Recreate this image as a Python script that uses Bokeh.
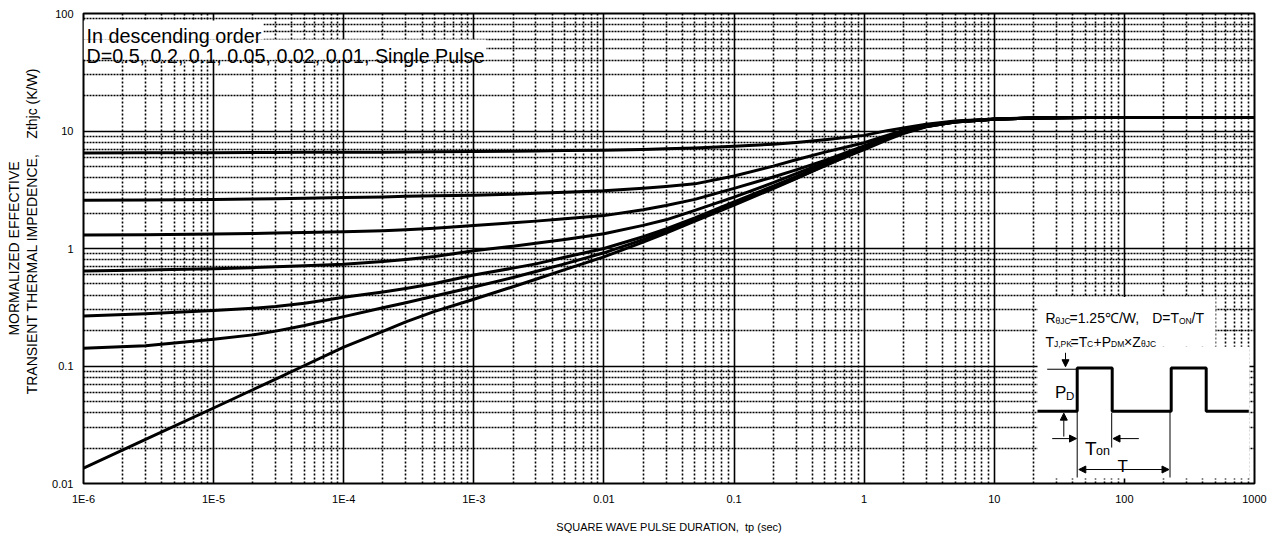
import math
from bokeh.plotting import figure
from bokeh.models import (FixedTicker, Range1d, LinearScale, Label, Arrow, NormalHead, LogAxis)
from bokeh.embed import file_html
from bokeh.resources import INLINE

# ---------------- data ----------------
tp = [1e-6, 3e-6, 1e-5, 2e-5, 3e-5, 5e-5, 1e-4, 2e-4, 3e-4, 5e-4, 1e-3, 2e-3, 3e-3, 5e-3,
      0.01, 0.02, 0.03, 0.05, 0.1, 0.2, 0.3, 0.5, 1, 1.5, 2, 3, 5, 10, 20, 50, 100, 1000]

z_d050 = [6.50, 6.52, 6.53, 6.55, 6.56, 6.58, 6.59, 6.61, 6.62, 6.65, 6.68, 6.73, 6.76, 6.81,
          6.87, 6.97, 7.05, 7.18, 7.41, 7.73, 7.98, 8.41, 9.18, 10.07, 10.59, 11.43, 12.16,
          12.68, 12.9, 13.0, 13.0, 13.0]
z_d020 = [2.58, 2.59, 2.61, 2.64, 2.65, 2.68, 2.72, 2.75, 2.78, 2.81, 2.84, 2.90, 2.95, 3.01,
          3.10, 3.26, 3.37, 3.55, 4.14, 5.02, 5.69, 6.61, 7.94, 9.16, 10.1, 11.2, 12.05,
          12.65, 12.9, 13.0, 13.0, 13.0]
z_d010 = [1.30, 1.31, 1.326, 1.34, 1.352, 1.368, 1.387, 1.419, 1.445, 1.486, 1.567, 1.656,
          1.71, 1.79, 1.905, 2.14, 2.32, 2.62, 3.25, 4.06, 4.67, 5.62, 7.45, 8.95, 9.95,
          11.07, 12.0, 12.6, 12.9, 13.0, 13.0, 13.0]
z_d005 = [0.643, 0.655, 0.673, 0.687, 0.698, 0.713, 0.736, 0.776, 0.807, 0.855, 0.955, 1.045,
          1.107, 1.194, 1.334, 1.574, 1.754, 2.11, 2.735, 3.63, 4.34, 5.40, 7.28, 8.81, 9.84,
          11.0, 11.97, 12.6, 12.9, 13.0, 13.0, 13.0]
z_d002 = [0.267, 0.278, 0.296, 0.31, 0.321, 0.342, 0.384, 0.427, 0.457, 0.504, 0.594, 0.681,
          0.74, 0.841, 1.0, 1.26, 1.47, 1.82, 2.49, 3.39, 4.09, 5.25, 7.18, 8.65, 9.73,
          10.94, 11.94, 12.6, 12.9, 13.0, 13.0, 13.0]
z_d001 = [0.1415, 0.149, 0.169, 0.184, 0.198, 0.221, 0.263, 0.313, 0.345, 0.394, 0.470, 0.566,
          0.638, 0.740, 0.919, 1.19, 1.41, 1.76, 2.42, 3.30, 3.96, 5.04, 7.08, 8.57, 9.66,
          10.9, 11.9, 12.6, 12.9, 13.0, 13.0, 13.0]
z_single = [0.0135, 0.0237, 0.0439, 0.0628, 0.0774, 0.101, 0.1445, 0.197, 0.237, 0.292, 0.37,
            0.473, 0.547, 0.661, 0.849, 1.135, 1.35, 1.71, 2.34, 3.24, 3.93, 5.13, 6.95, 8.41,
            9.51, 10.84, 11.9, 12.6, 12.9, 13.0, 13.0, 13.0]

series = [z_d050, z_d020, z_d010, z_d005, z_d002, z_d001, z_single]

x_tick_values = [1e-6, 1e-5, 1e-4, 1e-3, 0.01, 0.1, 1, 10, 100, 1000]
x_tick_labels = ["1E-6", "1E-5", "1E-4", "1E-3", "0.01", "0.1", "1", "10", "100", "1000"]
y_tick_values = [0.01, 0.1, 1, 10, 100]
y_tick_labels = ["0.01", "0.1", "1", "10", "100"]

NB = "\u00a0"
x_title = "SQUARE WAVE PULSE DURATION," + NB + " tp (sec)"
y_title_1 = "MORMALIZED EFFECTIVE"
y_title_2 = NB * 9 + "TRANSIENT THERMAL IMPEDENCE," + NB * 3 + " Zthjc (K/W)"
note_1 = "In descending order"
note_2 = "D=0.5, 0.2, 0.1, 0.05, 0.02, 0.01, Single Pulse"

# ---------------- layout ----------------
W, H = 1276, 535
FL, FT, FR, FB = 83, 13, 1254, 484          # frame edges in canvas pixels
FW, FH = FR - FL, FB - FT
FONT = "Liberation Sans"

def fx(X):
    return X - FL

def fy(Y):
    return FB - Y

def minors(decades):
    out = []
    for d in decades:
        for k in range(2, 10):
            out.append(k * 10.0 ** d)
    return out

p = figure(width=W, height=H, x_axis_type="log", y_axis_type="log",
           x_range=Range1d(1e-6, 1e3), y_range=Range1d(0.01, 100),
           output_backend="svg", toolbar_location=None,
           min_border_left=FL, min_border_top=FT,
           min_border_right=W - FR, min_border_bottom=H - FB)
p.title.visible = False
p.background_fill_color = "white"
p.border_fill_color = "white"
p.outline_line_color = "black"
p.outline_line_width = 2

p.extra_x_ranges = {"px": Range1d(0, FW)}
p.extra_x_scales = {"px": LinearScale()}
p.extra_y_ranges = {"px": Range1d(0, FH)}
p.extra_y_scales = {"px": LinearScale()}

p.xaxis.ticker = FixedTicker(ticks=x_tick_values, minor_ticks=minors(range(-6, 3)))
p.yaxis.ticker = FixedTicker(ticks=y_tick_values, minor_ticks=minors(range(-2, 2)))
p.xaxis.major_label_overrides = dict(zip(x_tick_values, x_tick_labels))
p.yaxis.major_label_overrides = dict(zip(y_tick_values, y_tick_labels))

def style_axis(ax):
    ax.axis_line_color = None
    ax.major_tick_line_color = None
    ax.minor_tick_line_color = None
    ax.major_tick_out = 0
    ax.major_tick_in = 0
    ax.minor_tick_out = 0
    ax.minor_tick_in = 0
    ax.major_label_text_font = FONT
    ax.major_label_text_font_size = "11px"
    ax.major_label_text_color = "black"
    ax.axis_label_text_font = FONT
    ax.axis_label_text_font_style = "normal"
    ax.axis_label_text_color = "black"

style_axis(p.xaxis[0])
style_axis(p.yaxis[0])
p.xaxis.major_label_standoff = 9
p.yaxis.major_label_standoff = 10
p.xaxis.axis_label = x_title
p.xaxis.axis_label_text_font_size = "11px"
p.xaxis.axis_label_standoff = 13
p.yaxis.axis_label = y_title_2
p.yaxis.axis_label_text_font_size = "14px"
p.yaxis.axis_label_standoff = 9

outer = LogAxis(ticker=FixedTicker(ticks=[]), axis_label=y_title_1)
style_axis(outer)
outer.major_label_standoff = 0
outer.axis_label_standoff = 0
outer.axis_label_text_font_size = "14px"
p.add_layout(outer, "left")

for g in (p.xgrid, p.ygrid):
    g.grid_line_color = "black"
    g.grid_line_width = 1.6
    g.grid_line_alpha = 1.0
    g.minor_grid_line_color = "black"
    g.minor_grid_line_width = 1.6
p.xgrid.minor_grid_line_dash = "2 2"
p.ygrid.minor_grid_line_dash = "2 1"

# white backgrounds behind notes and inset (decoration, in frame pixels)
boxes = [(83, 263, 20, 39), (83, 486, 39, 59), (1037, 1215, 297, 347), (1037, 1249, 347, 479)]
p.quad(left=[fx(b[0]) for b in boxes], right=[fx(b[1]) for b in boxes],
       top=[fy(b[2]) for b in boxes], bottom=[fy(b[3]) for b in boxes],
       x_range_name="px", y_range_name="px",
       fill_color="white", line_color=None)

# curves
for s in series:
    p.line(tp, s, line_color="black", line_width=3, line_join="round")

def txt(t, X, Y, size, align="left", baseline="alphabetic", angle=0.0):
    p.add_layout(Label(x=fx(X), y=fy(Y), text=t, x_range_name="px", y_range_name="px",
                       text_font=FONT, text_font_size=f"{size}px", text_color="black",
                       text_align=align, text_baseline=baseline, angle=angle))

# notes
txt(note_1, 86, 36, 19.8)
txt(note_2, 86, 56, 19.7)

# inset: formulas
for t, X, Y, s in [("R", 1045, 318.3, 14), ("\u03b8JC", 1055, 321, 8.5),
                   ("=1.25\u2103/W,", 1069, 318.3, 14), ("D=T", 1151.7, 318.3, 14),
                   ("ON", 1178.5, 321, 8.5), ("/T", 1191, 318.3, 14),
                   ("T", 1045, 341.7, 14), ("J,PK", 1053.5, 344, 8.5), ("=T", 1070, 341.7, 14),
                   ("C", 1086.5, 344, 8.5), ("+P", 1093, 341.7, 14), ("DM", 1110.5, 344, 8.5),
                   ("\u00d7Z", 1123.5, 341.7, 14), ("\u03b8JC", 1140.5, 344, 8.5),
                   ("P", 1054.5, 393.3, 17), ("D", 1065.5, 396.5, 11.5),
                   ("T", 1084.5, 449.3, 19), ("on", 1095.5, 451, 12.5),
                   ("T", 1117, 467, 17)]:
    txt(t, X, Y, s)

# inset: waveform
wx = [1037, 1076.7, 1076.7, 1111.7, 1111.7, 1170.7, 1170.7, 1205.7, 1205.7, 1248.3]
wy = [411.7, 411.7, 368.3, 368.3, 411.7, 411.7, 368.3, 368.3, 411.7, 411.7]
p.line([fx(v) for v in wx], [fy(v) for v in wy], x_range_name="px", y_range_name="px",
       line_color="black", line_width=3)
thin = [((1046.7, 369.5), (1076.7, 369.5)), ((1076.7, 411.7), (1076.7, 478)),
        ((1111.2, 413), (1111.2, 448)), ((1169.5, 411.7), (1169.5, 478))]
p.multi_line([[fx(a[0]), fx(b[0])] for a, b in thin], [[fy(a[1]), fy(b[1])] for a, b in thin],
             x_range_name="px", y_range_name="px", line_color="black", line_width=1)

def arrow(X0, Y0, X1, Y1, both=False):
    p.add_layout(Arrow(x_start=fx(X0), y_start=fy(Y0), x_end=fx(X1), y_end=fy(Y1),
                       x_range_name="px", y_range_name="px", line_width=1, line_color="black",
                       end=NormalHead(size=7, fill_color="black", line_color="black"),
                       start=NormalHead(size=7, fill_color="black", line_color="black") if both else None))

arrow(1065, 353, 1065, 367)
arrow(1063.3, 437, 1063.3, 413.5)
arrow(1051.7, 439, 1076, 439)
arrow(1138.3, 439, 1112.5, 439)
arrow(1078.3, 470, 1168.5, 470, both=True)

open("out.html", "w").write(file_html(p, INLINE))
